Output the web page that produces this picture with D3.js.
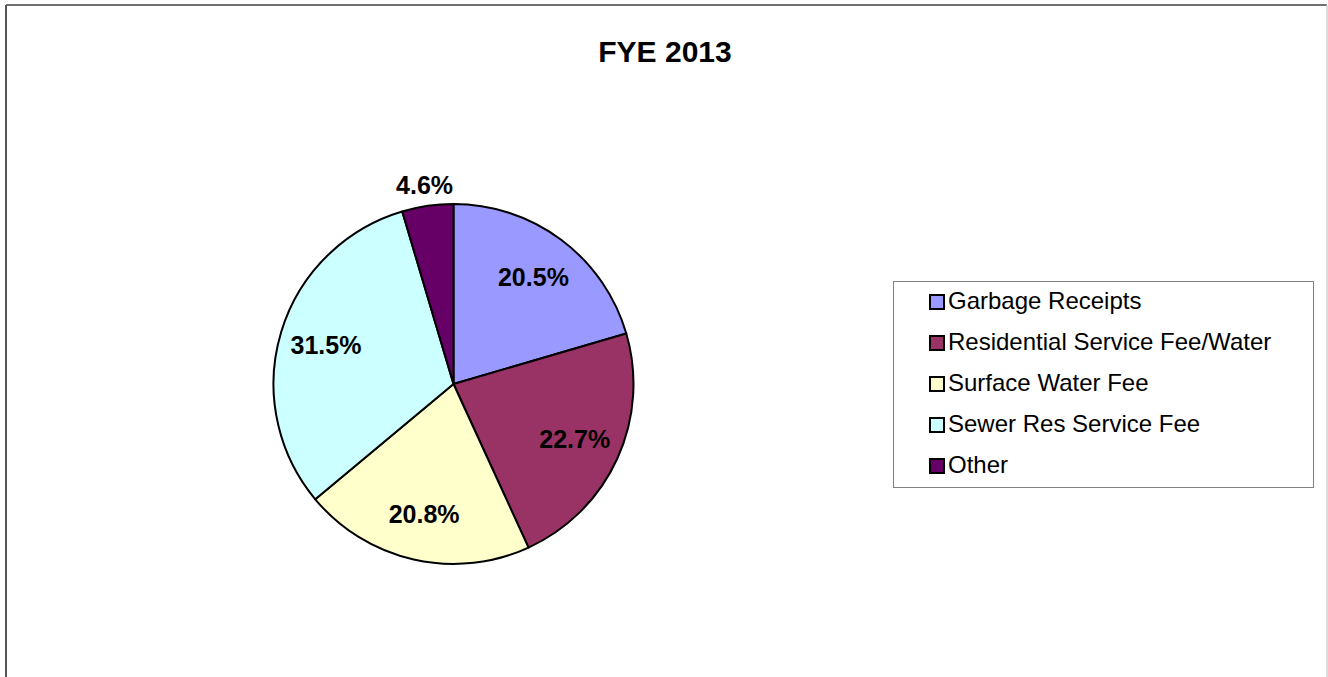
<!DOCTYPE html>
<html>
<head>
<meta charset="utf-8">
<script src="https://cdn.jsdelivr.net/npm/d3@7"></script>
<style>
  html, body { margin: 0; padding: 0; background: #fff; }
  svg { display: block; }
  text { font-family: "Liberation Sans", Arial, sans-serif; }
</style>
</head>
<body>
<svg id="chart" width="1328" height="677"></svg>
<script>
const title = "FYE 2013";
const categories = ["Garbage Receipts", "Residential Service Fee/Water", "Surface Water Fee", "Sewer Res Service Fee", "Other"];
const values = [20.5, 22.7, 20.8, 31.5, 4.6];
const labels = ["20.5%", "22.7%", "20.8%", "31.5%", "4.6%"];
const colors = ["#9999FF", "#993366", "#FFFFCC", "#CCFFFF", "#660066"];

const svg = d3.select("#chart");
const W = 1328, H = 677;

// frame
svg.append("line").attr("x1", 6).attr("y1", 5).attr("x2", 1327).attr("y2", 5)
  .attr("stroke", "#404040").attr("stroke-width", 1.5);
svg.append("line").attr("x1", 6).attr("y1", 5).attr("x2", 6).attr("y2", H)
  .attr("stroke", "#555").attr("stroke-width", 2);
svg.append("line").attr("x1", 1327).attr("y1", 5).attr("x2", 1327).attr("y2", H)
  .attr("stroke", "#d0d0d0").attr("stroke-width", 1.5);

// title
svg.append("text").attr("x", 665).attr("y", 62)
  .attr("text-anchor", "middle").attr("font-weight", "bold").attr("font-size", 30)
  .text(title);

const cx = 453.5, cy = 384, R = 180;
const g = svg.append("g").attr("transform", `translate(${cx},${cy})`);

const pie = d3.pie().sort(null).value(d => d);
const arcs = pie(values);
const arc = d3.arc().innerRadius(0).outerRadius(R);

g.selectAll("path.slice").data(arcs).join("path")
  .attr("class", "slice")
  .attr("d", arc)
  .attr("fill", (d, i) => colors[i])
  .attr("stroke", "#000").attr("stroke-width", 2).attr("stroke-linejoin", "round");

// labels: inside for large slices, outside for small
const inArc = d3.arc().innerRadius(R * 0.74).outerRadius(R * 0.74);
const outArc = d3.arc().innerRadius(R + 21).outerRadius(R + 21);
g.selectAll("text.lbl").data(arcs).join("text")
  .attr("class", "lbl")
  .attr("transform", d => {
    const a = (d.endAngle - d.startAngle) < 0.5 ? outArc : inArc;
    const [x, y] = a.centroid(d);
    return `translate(${x},${y})`;
  })
  .attr("text-anchor", "middle").attr("dy", "0.36em")
  .attr("font-weight", "bold").attr("font-size", 25).attr("fill", "#000")
  .text((d, i) => labels[i]);

// legend
const lg = svg.append("g");
lg.append("rect").attr("x", 893.5).attr("y", 281.5).attr("width", 420).attr("height", 206)
  .attr("fill", "#fff").attr("stroke", "#808080").attr("stroke-width", 1);
const ly = d3.scalePoint().domain(categories).range([309, 473]);
const items = lg.selectAll("g.item").data(categories).join("g").attr("class", "item")
  .attr("transform", d => `translate(0,${ly(d)})`);
items.append("rect").attr("x", 930).attr("y", -14).attr("width", 14).attr("height", 14)
  .attr("fill", (d, i) => colors[i]).attr("stroke", "#000").attr("stroke-width", 2);
items.append("text").attr("x", 948).attr("y", 0).attr("font-size", 24).attr("fill", "#000")
  .text(d => d);
</script>
</body>
</html>
